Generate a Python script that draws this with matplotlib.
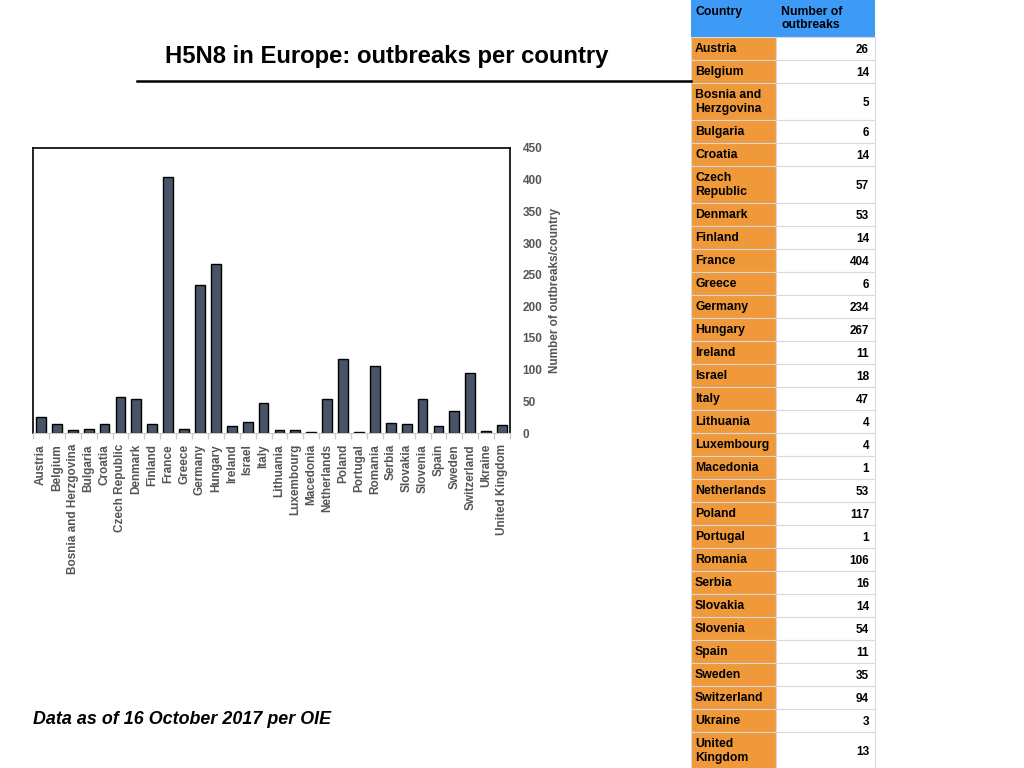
import matplotlib
matplotlib.use("Agg")
import matplotlib.pyplot as plt
from matplotlib.patches import Rectangle
import numpy as np

plt.rcParams["font.family"] = ["Liberation Sans", "DejaVu Sans"]

countries = ["Austria", "Belgium", "Bosnia and Herzgovina", "Bulgaria", "Croatia",
             "Czech Republic", "Denmark", "Finland", "France", "Greece", "Germany",
             "Hungary", "Ireland", "Israel", "Italy", "Lithuania", "Luxembourg",
             "Macedonia", "Netherlands", "Poland", "Portugal", "Romania", "Serbia",
             "Slovakia", "Slovenia", "Spain", "Sweden", "Switzerland", "Ukraine",
             "United Kingdom"]
outbreaks = [26, 14, 5, 6, 14, 57, 53, 14, 404, 6, 234, 267, 11, 18, 47, 4, 4, 1,
             53, 117, 1, 106, 16, 14, 54, 11, 35, 94, 3, 13]
# how the country names wrap inside the table
table_names = ["Austria", "Belgium", "Bosnia and\nHerzgovina", "Bulgaria", "Croatia",
               "Czech\nRepublic", "Denmark", "Finland", "France", "Greece", "Germany",
               "Hungary", "Ireland", "Israel", "Italy", "Lithuania", "Luxembourg",
               "Macedonia", "Netherlands", "Poland", "Portugal", "Romania", "Serbia",
               "Slovakia", "Slovenia", "Spain", "Sweden", "Switzerland", "Ukraine",
               "United\nKingdom"]
yticks = [0, 50, 100, 150, 200, 250, 300, 350, 400, 450]

W, H = 1024, 768
fig = plt.figure(figsize=(W / 100, H / 100), dpi=100)
gray = "#555555"

# ---- bar chart
ax = fig.add_axes([33 / W, 1 - 433 / H, (510 - 33) / W, (433 - 148) / H])
x = np.arange(len(countries))
ax.bar(x, outbreaks, width=0.62, color="#4a5468", edgecolor="black", linewidth=1)
ax.set_xlim(-0.5, len(countries) - 0.5)
ax.set_ylim(0, 450)
ax.set_yticks(yticks)
ax.yaxis.tick_right()
ax.yaxis.set_label_position("right")
ax.tick_params(axis="y", length=0, pad=9, labelsize=8.5, labelcolor=gray)
for t in ax.get_yticklabels():
    t.set_fontweight("bold")
ax.set_ylabel("Number of outbreaks/country", fontsize=8.5, fontweight="bold",
              color=gray, labelpad=5)
ax.set_xticks(x)
ax.set_xticklabels(countries, rotation=90, fontsize=8.5, fontweight="bold", color=gray)
ax.set_xticks(np.arange(len(countries) + 1) - 0.5, minor=True)
ax.tick_params(axis="x", which="major", length=0, pad=8)
ax.tick_params(axis="x", which="minor", length=4, color="#cccccc", width=1)
for s in ["left", "top", "right"]:
    ax.spines[s].set_linewidth(1.2)
ax.spines["bottom"].set_color("#cccccc")

# ---- title, rule, footer
fig.text(165 / W, 1 - 57 / H, "H5N8 in Europe: outbreaks per country",
         fontsize=17.2, fontweight="bold", va="center", ha="left")
fig.add_artist(plt.Line2D([137 / W, 691 / W], [1 - 81 / H, 1 - 81 / H],
                          color="black", linewidth=1.8))
fig.text(33 / W, 1 - 720 / H, "Data as of 16 October 2017 per OIE",
         fontsize=12.9, fontweight="bold", style="italic", va="center", ha="left")

# ---- table on the right
x0, x1, x2 = 691 / W, 776 / W, 875 / W
orange, blue = "#f0993a", "#3d9bf7"
fs = 8.8
hh = 37
fig.add_artist(Rectangle((x0, 1 - hh / H), x2 - x0, hh / H, facecolor=blue,
                         edgecolor="none", transform=fig.transFigure))
fig.text(x0 + 4 / W, 1 - 6 / H, "Country", fontsize=fs, fontweight="bold",
         va="top", ha="left")
fig.text(x1 + 5 / W, 1 - 6 / H, "Number of\noutbreaks", fontsize=fs,
         fontweight="bold", va="top", ha="left", linespacing=1.15)
y = hh
for name, val in zip(table_names, outbreaks):
    rh = 37 if "\n" in name else 23
    yb = 1 - (y + rh) / H
    fig.add_artist(Rectangle((x0, yb), x1 - x0, rh / H, facecolor=orange,
                             edgecolor="#d9d9d9", linewidth=0.8,
                             transform=fig.transFigure))
    fig.add_artist(Rectangle((x1, yb), x2 - x1, rh / H, facecolor="white",
                             edgecolor="#d9d9d9", linewidth=0.8,
                             transform=fig.transFigure))
    yc = 1 - (y + rh / 2) / H
    fig.text(x0 + 4 / W, yc - 0.5 / H, name, fontsize=fs, fontweight="bold",
             va="center", ha="left", linespacing=1.15)
    fig.text(x2 - 6 / W, yc - 1.5 / H, str(val), fontsize=8.5, fontweight="bold",
             va="center", ha="right")
    y += rh

fig.savefig("out.png", dpi=100)
